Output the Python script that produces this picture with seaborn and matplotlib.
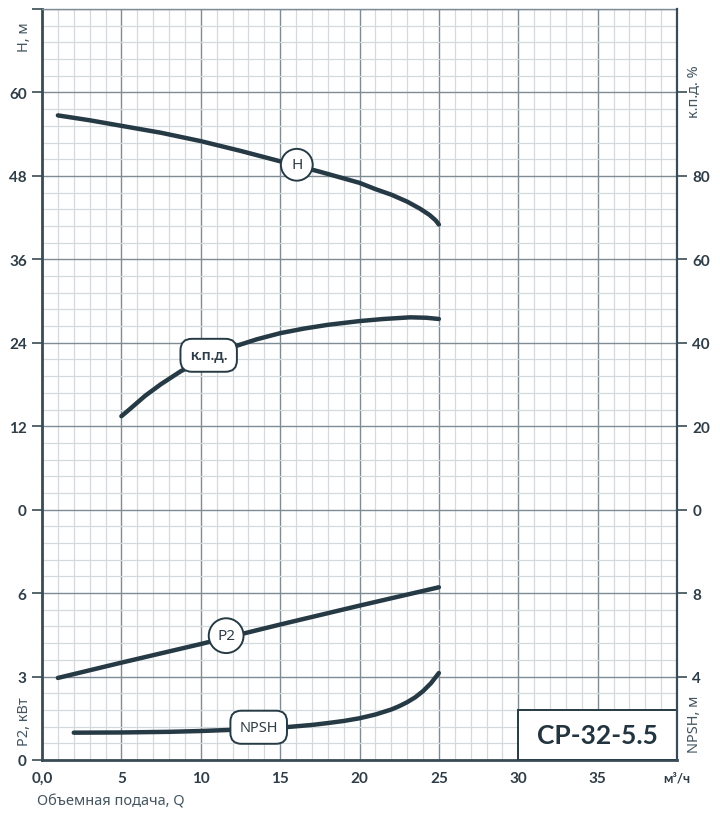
import matplotlib
matplotlib.use("Agg")
import matplotlib.pyplot as plt
from matplotlib.ticker import MultipleLocator, FixedLocator
from matplotlib.patches import Rectangle
import seaborn as sns

# pump curves, Q in m3/h
q_head = [1, 3, 5, 7.5, 10, 12.5, 15, 17.5, 20, 21, 22, 23, 23.8, 24.4, 24.8, 25]
head = [56.7, 56.0, 55.2, 54.2, 53.0, 51.6, 50.1, 48.6, 47.0, 46.1, 45.3, 44.3, 43.3, 42.4, 41.6, 41.0]

q_eff = [5, 5.5, 6.5, 7.5, 8.75, 10, 11, 12.2, 13.5, 15, 16.5, 18, 20, 21.5, 23.2, 24.2, 25]
eff = [22.4, 24.0, 27.3, 30.1, 33.2, 35.6, 37.4, 39.2, 40.8, 42.3, 43.4, 44.3, 45.2, 45.7, 46.1, 46.0, 45.7]

q_p2 = [1, 5, 10, 15, 20, 25]
p2 = [2.95, 3.5, 4.17, 4.87, 5.55, 6.21]

q_npsh = [2, 5, 8, 10, 12.5, 15, 17, 18, 19, 20, 21, 22, 22.5, 23, 23.5, 24, 24.5, 25]
npsh = [1.31, 1.32, 1.35, 1.39, 1.46, 1.55, 1.68, 1.77, 1.87, 2.0, 2.18, 2.42, 2.58, 2.77, 3.0, 3.3, 3.68, 4.17]

x_ticks = [0, 5, 10, 15, 20, 25, 30, 35, 40]
x_labels = ["0,0", "5", "10", "15", "20", "25", "30", "35", "м³/ч"]
left_ticks = [-36, -24, -12, 0, 12, 24, 36, 48, 60]
left_labels = ["0", "3", "6", "0", "12", "24", "36", "48", "60"]
right_ticks = [-40, -20, 0, 20, 40, 60, 80, 100]
right_labels = ["4", "8", "0", "20", "40", "60", "80", ""]

LINE = "#263a45"
TEXT = "#2e3d47"
SPINE = "#3b4b55"
MAJOR = "#7f8c94"
MINOR = "#d4d9dd"
BOLD = ["Lato", "DejaVu Sans"]

sns.set_style("white")
plt.rcParams["font.family"] = ["Noto Sans", "DejaVu Sans"]

fig = plt.figure(figsize=(7.2, 8.2), dpi=100)
ax = fig.add_axes([42 / 720, 1 - 761 / 820, 635 / 720, 751 / 820])

# main axis = head scale, it carries the grid
ax.set_xlim(0, 40)
ax.set_ylim(-36, 72)
ax.xaxis.set_major_locator(FixedLocator(x_ticks))
ax.xaxis.set_minor_locator(MultipleLocator(1))
ax.yaxis.set_major_locator(FixedLocator(left_ticks + [72]))
ax.yaxis.set_minor_locator(MultipleLocator(2.4))
ax.set_xticklabels(x_labels)
ax.set_yticklabels(left_labels + [""])
ax.grid(which="major", color=MAJOR, lw=1.0)
ax.grid(which="minor", color=MINOR, lw=0.9)
ax.tick_params(axis="x", which="both", length=0, pad=8, labelsize=11, labelcolor=TEXT)
ax.tick_params(axis="y", which="major", length=7, width=1.2, color=SPINE, pad=4,
               labelsize=11, labelcolor=TEXT)
ax.tick_params(axis="y", which="minor", length=0)
for lab in ax.get_xticklabels() + ax.get_yticklabels():
    lab.set_fontweight("bold")
    lab.set_family(BOLD)
last = ax.get_xticklabels()[-1]
last.set_fontsize(9.5)
for side in ["left", "bottom"]:
    ax.spines[side].set_color(SPINE)
    ax.spines[side].set_linewidth(2)
ax.spines["top"].set_color(MAJOR)
ax.spines["top"].set_linewidth(1.0)
ax.spines["right"].set_visible(False)

# twin scales for the other curves
ax_e = ax.twinx()
ax_e.set_ylim(-60, 120)
ax_e.yaxis.set_major_locator(FixedLocator(right_ticks))
ax_e.set_yticklabels(right_labels)
ax_e.tick_params(axis="y", length=7, width=1.2, color=SPINE, pad=4, labelsize=11, labelcolor=TEXT)
for lab in ax_e.get_yticklabels():
    lab.set_fontweight("bold")
    lab.set_family(BOLD)
for side in ["left", "top", "bottom"]:
    ax_e.spines[side].set_visible(False)
ax_e.spines["right"].set_color(SPINE)
ax_e.spines["right"].set_linewidth(1.6)
ax_e.grid(False)

ax_p = ax.twinx()
ax_p.set_ylim(0, 27)
ax_n = ax.twinx()
ax_n.set_ylim(0, 36)
for a in [ax_p, ax_n]:
    a.set_yticks([])
    a.grid(False)
    for s in a.spines.values():
        s.set_visible(False)

style = dict(color=LINE, lw=3.2, solid_capstyle="round", solid_joinstyle="round")
sns.lineplot(x=q_head, y=head, ax=ax, **style)
sns.lineplot(x=q_eff, y=eff, ax=ax_e, **style)
sns.lineplot(x=q_p2, y=p2, ax=ax_p, **style)
sns.lineplot(x=q_npsh, y=npsh, ax=ax_n, **style)
ax.set_xlim(0, 40)

circ = dict(boxstyle="circle,pad=0.55", fc="white", ec=LINE, lw=1.4)
rnd = dict(boxstyle="round,pad=0.62,rounding_size=0.75", fc="white", ec=LINE, lw=1.4)
ax.text(16.05, 49.6, "H", ha="center", va="center", fontsize=11, color=TEXT, bbox=circ, zorder=5)
ax_e.text(10.5, 37.0, "к.п.д.", ha="center", va="center", fontsize=11, fontweight="bold",
          family=BOLD, color=TEXT, bbox=rnd, zorder=5)
ax_p.text(11.6, 4.47, "P2", ha="center", va="center", fontsize=11, color=TEXT, bbox=circ, zorder=5)
ax_n.text(13.65, 1.57, "NPSH", ha="center", va="center", fontsize=10.5, color=TEXT, bbox=rnd, zorder=5)

# model plate
tr = ax.get_xaxis_transform()
ax.add_patch(Rectangle((30, 0), 10, 0.6 / 9, transform=tr, fc="white", ec=LINE, lw=1.4, zorder=3))
ax.text(35, 0.3 / 9, "CP-32-5.5", transform=tr, ha="center", va="center", fontsize=19,
        fontweight="bold", family=BOLD, color="#22343f", zorder=4)

lab_col = "#44555f"
fig.text(25 / 720, 1 - 37 / 820, "H, м", rotation=90, ha="center", va="center", fontsize=10.5, color=lab_col)
fig.text(24 / 720, 1 - 722 / 820, "P2, кВт", rotation=90, ha="center", va="center", fontsize=10.5, color=lab_col)
fig.text(694 / 720, 1 - 92 / 820, "к.п.д. %", rotation=90, ha="center", va="center", fontsize=10.5, color=lab_col)
fig.text(694 / 720, 1 - 724 / 820, "NPSH, м", rotation=90, ha="center", va="center", fontsize=10.5, color=lab_col)
fig.text(37 / 720, 1 - 802 / 820, "Объемная подача, Q", ha="left", va="center", fontsize=10.5, color=lab_col)

fig.savefig("out.png", dpi=100, facecolor="white")
